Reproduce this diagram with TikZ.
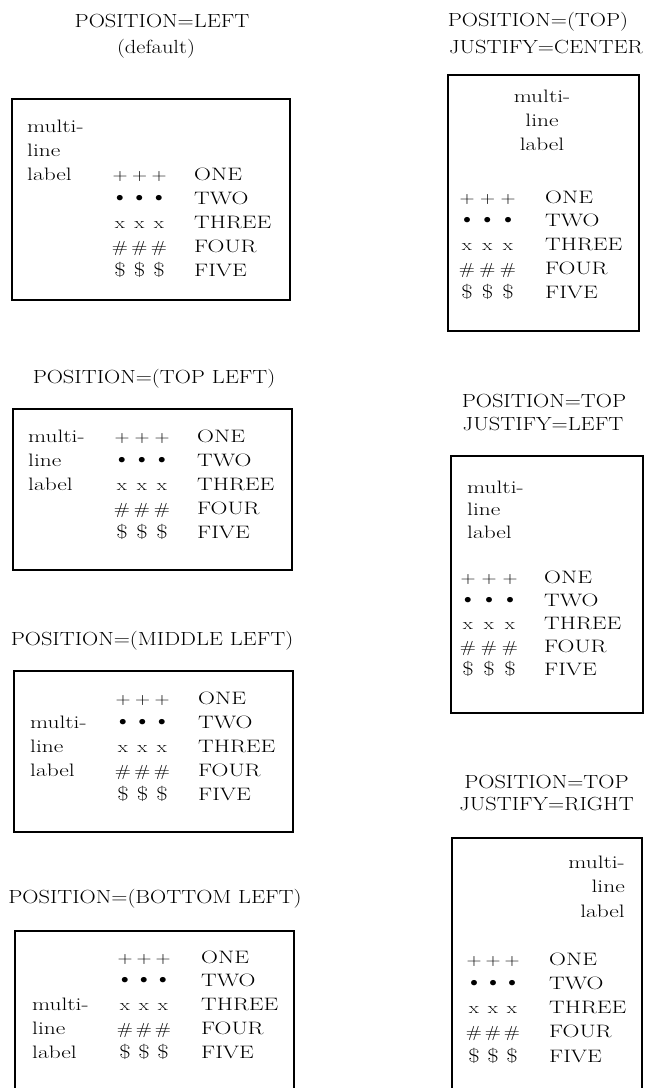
\documentclass[tikz,border=0pt]{standalone}
\usepackage{fontspec}
\setmainfont{Latin Modern Roman}[FakeStretch=1.3]
\newfontfamily\titlefont{Latin Modern Roman}[FakeStretch=1.18]
\newfontfamily\dotfont{Latin Modern Roman}[FakeStretch=1.1]
\newcommand\bigdot{\smash{\dotfont\fontsize{24}{24}\selectfont\textbullet}}
\newcommand\bigdollar{{\fontsize{19}{19}\selectfont\$}}
\tikzset{
  box/.style={draw, line width=1.1pt},
  ttl/.style={font=\titlefont\fontsize{19}{19}\selectfont, inner sep=0pt, anchor=base},
  lbl/.style={font=\fontsize{18}{18}\selectfont, inner sep=0pt},
  sym/.style={font=\fontsize{16}{16}\selectfont, inner sep=0pt, anchor=base},
  word/.style={font=\fontsize{18}{18}\selectfont, inner sep=0pt, anchor=base west},
}
% #1 prefix, #2 first symbol column centre, #3 column step, #4 words x, #5 first baseline, #6 row step
\newcommand\legendrows[6]{%
  \foreach \s [count=\i] in {+,\bigdot,x,\#,\bigdollar}{%
    \foreach \c in {0,1,2}{%
      \node[sym] (#1s\i\c) at ({#2+\c*#3},{#5+(\i-1)*#6}) {\s};
    }%
  }%
  \foreach \w [count=\i] in {ONE,TWO,THREE,FOUR,FIVE}{%
    \node[word] (#1w\i) at (#4,{#5+(\i-1)*#6}) {\w};
  }%
}
\begin{document}
\begin{tikzpicture}[x=1pt,y=-1pt]
\useasboundingbox (0,0) rectangle (647,1088);

% ---------- Panel A: POSITION=LEFT (default)
\node[ttl] (At1) at (162,27) {POSITION=LEFT};
\node[ttl] (At2) at (156,53) {(default)};
\draw[box] (12,99) rectangle (290,300);
\node[lbl,anchor=base west] (Al1) at (27,132) {multi-};
\node[lbl,anchor=base west] (Al2) at (27,156) {line};
\node[lbl,anchor=base west] (Al3) at (27,180) {label};
\legendrows{A}{120}{19.5}{194}{180}{24}

% ---------- Panel B: POSITION=(TOP LEFT)
\node[ttl] (Bt1) at (154,383) {POSITION=(TOP LEFT)};
\draw[box] (13,409) rectangle (292,570);
\node[lbl,anchor=base west] (Bl1) at (28,442) {multi-};
\node[lbl,anchor=base west] (Bl2) at (28,466) {line};
\node[lbl,anchor=base west] (Bl3) at (28,490) {label};
\legendrows{B}{122}{20}{197}{442}{24}

% ---------- Panel C: POSITION=(MIDDLE LEFT)
\node[ttl] (Ct1) at (152,645) {POSITION=(MIDDLE LEFT)};
\draw[box] (14,671) rectangle (293,832);
\node[lbl,anchor=base west] (Cl1) at (30,728) {multi-};
\node[lbl,anchor=base west] (Cl2) at (30,752) {line};
\node[lbl,anchor=base west] (Cl3) at (30,776) {label};
\legendrows{C}{123}{19.5}{198}{704}{24}

% ---------- Panel D: POSITION=(BOTTOM LEFT)
\node[ttl] (Dt1) at (155,903) {POSITION=(BOTTOM LEFT)};
\draw[box] (15,1095) |- (294,931) -- (294,1095);
\node[lbl,anchor=base west] (Dl1) at (32,1010.5) {multi-};
\node[lbl,anchor=base west] (Dl2) at (32,1034.25) {line};
\node[lbl,anchor=base west] (Dl3) at (32,1058) {label};
\legendrows{D}{125}{19}{201}{963}{23.75}

% ---------- Panel E: POSITION=(TOP) JUSTIFY=CENTER
\node[ttl] (Et1) at (538,26) {POSITION=(TOP)};
\node[ttl] (Et2) at (546,53) {JUSTIFY=CENTER};
\draw[box] (448,75) rectangle (639,331);
\node[lbl,anchor=base] (El1) at (542,102) {multi-};
\node[lbl,anchor=base] (El2) at (542,126) {line};
\node[lbl,anchor=base] (El3) at (542,150) {label};
\legendrows{E}{467}{20.5}{545}{203}{23.75}

% ---------- Panel F: POSITION=TOP JUSTIFY=LEFT
\node[ttl] (Ft1) at (544,407) {POSITION=TOP};
\node[ttl] (Ft2) at (543,430) {JUSTIFY=LEFT};
\draw[box] (451,456) rectangle (643,713);
\node[lbl,anchor=base west] (Fl1) at (467,493) {multi-};
\node[lbl,anchor=base west] (Fl2) at (467,515.5) {line};
\node[lbl,anchor=base west] (Fl3) at (467,538) {label};
\legendrows{F}{468}{21}{544}{583}{23}

% ---------- Panel G: POSITION=TOP JUSTIFY=RIGHT
\node[ttl] (Gt1) at (546.5,788) {POSITION=TOP};
\node[ttl] (Gt2) at (546.5,810) {JUSTIFY=RIGHT};
\draw[box] (452,1095) |- (642,838) -- (642,1095);
\node[lbl,anchor=base east] (Gl1) at (625,868) {multi-};
\node[lbl,anchor=base east] (Gl2) at (625,892) {line};
\node[lbl,anchor=base east] (Gl3) at (625,917) {label};
\legendrows{G}{474}{19}{549}{965}{24.25}
\end{tikzpicture}
\end{document}
